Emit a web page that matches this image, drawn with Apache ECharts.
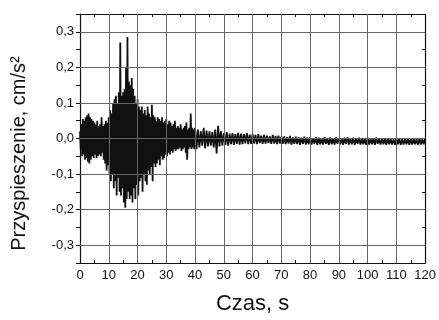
<!DOCTYPE html>
<html>
<head>
<meta charset="utf-8">
<script src="https://cdn.jsdelivr.net/npm/echarts@6/dist/echarts.min.js"></script>
<style>
html, body { margin: 0; padding: 0; background: #fff; }
#chart { width: 439px; height: 320px; }
</style>
</head>
<body>
<div id="chart"></div>
<script>
// przebieg przyspieszenia - obwiednia gorna/dolna
var stepEarly = 0.5; // 0..40 s co 0,5 s
var upperEarly = [
    0.02, 0.04, 0.055, 0.05, 0.06, 0.065, 0.07, 0.06, 0.055, 0.05,
    0.045, 0.04, 0.05, 0.035, 0.04, 0.06, 0.035, 0.04, 0.05, 0.045,
    0.06, 0.08, 0.07, 0.1, 0.11, 0.12, 0.1, 0.13, 0.27, 0.12,
    0.13, 0.14, 0.2, 0.285, 0.16, 0.15, 0.17, 0.14, 0.12, 0.1,
    0.11, 0.09, 0.08, 0.09, 0.07, 0.08, 0.065, 0.09, 0.07, 0.06,
    0.095, 0.065, 0.06, 0.05, 0.06, 0.055, 0.05, 0.06, 0.045, 0.05,
    0.055, 0.04, 0.05, 0.045, 0.035, 0.04, 0.05, 0.03, 0.035, 0.03,
    0.04, 0.025, 0.03, 0.035, 0.045, 0.025, 0.03, 0.07, 0.03, 0.025,
    0.03
];
var lowerEarly = [
    -0.03, -0.05, -0.045, -0.06, -0.055, -0.065, -0.07, -0.06, -0.05, -0.055,
    -0.045, -0.055, -0.05, -0.045, -0.05, -0.04, -0.06, -0.07, -0.09, -0.075,
    -0.1, -0.12, -0.1, -0.14, -0.12, -0.16, -0.11, -0.15, -0.16, -0.14,
    -0.18, -0.195, -0.17, -0.15, -0.17, -0.16, -0.18, -0.14, -0.17, -0.13,
    -0.16, -0.12, -0.11, -0.15, -0.1, -0.12, -0.13, -0.09, -0.1, -0.08,
    -0.12, -0.07, -0.08, -0.07, -0.06, -0.075, -0.05, -0.06, -0.055, -0.045,
    -0.05, -0.04, -0.045, -0.035, -0.04, -0.03, -0.035, -0.03, -0.03, -0.025,
    -0.035, -0.03, -0.025, -0.04, -0.06, -0.03, -0.025, -0.03, -0.025, -0.03,
    -0.055
];
var stepLate = 1; // 41..120 s co 1 s
var upperLate = [
    0.025, 0.02, 0.03, 0.022, 0.02, 0.018, 0.025, 0.036, 0.02, 0.015,
    0.018, 0.014, 0.015, 0.012, 0.016, 0.014, 0.012, 0.015, 0.011, 0.013,
    0.01, 0.012, 0.008, 0.01, 0.008, 0.006, 0.01, 0.007, 0.008, 0.005,
    0.006, 0.004, 0.007, 0.003, 0.005, 0.004, 0.002, 0.005, 0.002, 0.004,
    0.001, 0.004, 0.002, 0.001, 0.004, 0.001, 0.003, 0.0, 0.003, 0.001,
    0.0, 0.002, 0.003, 0.0, 0.002, 0.0, 0.002, -0.001, 0.001, 0.002,
    -0.001, 0.001, 0.002, -0.001, 0.001, 0.0, 0.001, -0.001, -0.002, 0.001,
    0.0, -0.002, 0.0, 0.001, -0.002, 0.0, -0.002, 0.0, -0.002, 0.0
];
var lowerLate = [
    -0.03, -0.025, -0.02, -0.028, -0.022, -0.02, -0.025, -0.042, -0.022, -0.02,
    -0.018, -0.02, -0.016, -0.018, -0.015, -0.017, -0.016, -0.014, -0.016, -0.015,
    -0.014, -0.016, -0.013, -0.015, -0.014, -0.013, -0.015, -0.014, -0.016, -0.014,
    -0.015, -0.016, -0.014, -0.017, -0.015, -0.016, -0.018, -0.015, -0.017, -0.016,
    -0.017, -0.015, -0.018, -0.016, -0.017, -0.015, -0.018, -0.016, -0.017, -0.015,
    -0.016, -0.018, -0.015, -0.017, -0.016, -0.018, -0.015, -0.017, -0.016, -0.018,
    -0.017, -0.016, -0.018, -0.015, -0.017, -0.016, -0.018, -0.016, -0.017, -0.018,
    -0.016, -0.018, -0.017, -0.016, -0.018, -0.017, -0.016, -0.018, -0.017, -0.016
];
var gridX = [10, 20, 30, 40, 50, 60, 70, 80, 90, 100, 110];
var gridY = [-0.3, -0.2, -0.1, 0, 0.1, 0.2, 0.3];

// linia zygzakowata: gora w t, dol w t + pol kroku
var signal = [];
upperEarly.forEach(function (v, i) {
    var t = i * stepEarly;
    signal.push([t, v]);
    if (i < upperEarly.length - 1) signal.push([t + stepEarly / 2, lowerEarly[i]]);
});
upperLate.forEach(function (v, i) {
    var t = 41 + i * stepLate;
    signal.push([t - stepLate / 2, lowerLate[i]]);
    signal.push([t, v]);
});

var gridLines = gridY.map(function (v) { return {yAxis: v}; })
    .concat(gridX.map(function (v) { return {xAxis: v}; }));

var myChart = echarts.init(document.getElementById('chart'));
var txt = {color: '#111', fontFamily: 'Liberation Sans, Arial, sans-serif'};

myChart.setOption({
    animation: false,
    backgroundColor: '#fff',
    grid: {left: 80, right: 12, top: 14, bottom: 54},
    xAxis: [{
        type: 'value', min: 0, max: 120, interval: 10,
        name: 'Czas, s', nameLocation: 'middle', nameGap: 30,
        nameTextStyle: Object.assign({fontSize: 22}, txt),
        axisLine: {onZero: false, lineStyle: {color: '#111', width: 1.2}},
        axisTick: {inside: true, length: 5, lineStyle: {color: '#111'}},
        minorTick: {show: true, splitNumber: 2, length: 3, lineStyle: {color: '#111'}},
        axisLabel: Object.assign({fontSize: 13, margin: 6}, txt),
        splitLine: {show: false}
    }, {
        type: 'value', min: 0, max: 120, interval: 10, position: 'top',
        axisLine: {onZero: false, lineStyle: {color: '#111', width: 1.2}},
        axisTick: {inside: true, length: 5, lineStyle: {color: '#111'}},
        minorTick: {show: true, splitNumber: 2, length: 3, lineStyle: {color: '#111'}},
        axisLabel: {show: false},
        splitLine: {show: false}
    }],
    yAxis: [{
        type: 'value', min: -0.35, max: 0.35, interval: 0.05,
        name: 'Przyspieszenie, cm/s²', nameLocation: 'middle', nameGap: 51,
        nameTextStyle: Object.assign({fontSize: 20, padding: [0, 30, 0, 0]}, txt),
        axisLine: {onZero: false, lineStyle: {color: '#111', width: 1.2}},
        axisTick: {length: 4, lineStyle: {color: '#111'}},
        axisLabel: Object.assign({
            fontSize: 13, margin: 6,
            formatter: function (v) {
                var k = Math.round(v * 100);
                if (k % 10 !== 0 || Math.abs(k) > 30) return '';
                return (k / 100).toFixed(1).replace('.', ',');
            }
        }, txt),
        splitLine: {show: false}
    }, {
        type: 'value', min: -0.35, max: 0.35, interval: 0.05, position: 'right',
        axisLine: {show: true, onZero: false, lineStyle: {color: '#111', width: 1.2}},
        axisTick: {inside: true, length: 3, lineStyle: {color: '#111'}},
        axisLabel: {show: false},
        splitLine: {show: false}
    }],
    series: [{
        type: 'line',
        data: [[0, 0]],
        showSymbol: false,
        lineStyle: {opacity: 0},
        z: 1,
        markLine: { // siatka
            silent: true,
            symbol: ['none', 'none'],
            label: {show: false},
            lineStyle: {color: '#666', width: 1, type: 'solid'},
            data: gridLines
        }
    }, {
        name: 'przyspieszenie',
        type: 'line',
        data: signal,
        showSymbol: false,
        sampling: null,
        z: 3,
        lineStyle: {color: '#111', width: 1.8}
    }]
});
</script>
</body>
</html>
